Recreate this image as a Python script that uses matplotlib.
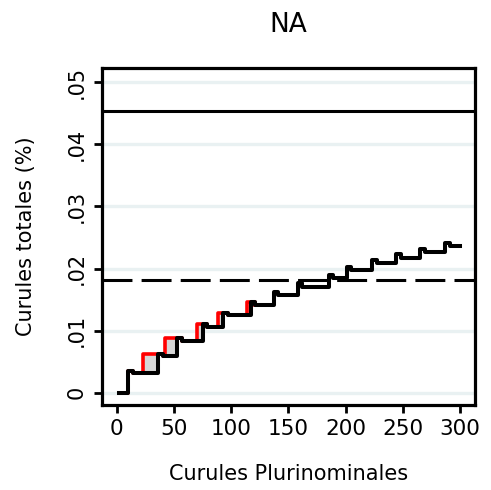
import numpy as np
import matplotlib
matplotlib.use("Agg")
import matplotlib.pyplot as plt

# ---- data ----
black_x = [2, 10, 14, 36, 40, 53, 57, 75, 79, 93, 97, 117, 121, 137, 141,
           158, 162, 185, 189, 201, 205, 223, 227, 244, 248, 265, 269, 287, 291, 300]
black_y = [0.0, 0.0035, 0.0031, 0.0063, 0.0059, 0.0088, 0.0083, 0.0111, 0.0106,
           0.0129, 0.0125, 0.0146, 0.0141, 0.0162, 0.0157, 0.0177, 0.0171,
           0.0189, 0.0184, 0.0203, 0.0198, 0.0214, 0.0209, 0.0224, 0.0217,
           0.0231, 0.0227, 0.0241, 0.0237, 0.0237]

red_x = [2, 10, 14, 23, 40, 42, 57, 70, 79, 88, 97, 114, 121]
red_y = [0.0, 0.0035, 0.0031, 0.0063, 0.0059, 0.0088, 0.0083, 0.0111, 0.0106,
         0.0129, 0.0125, 0.0146, 0.0141]

solid_ref = 0.0454
dashed_ref = 0.0181

title = "NA"
xlabel = "Curules Plurinominales"
ylabel = "Curules totales (%)"
xticks = [0, 50, 100, 150, 200, 250, 300]
yticks = [0, 0.01, 0.02, 0.03, 0.04, 0.05]
yticklabels = ["0", ".01", ".02", ".03", ".04", ".05"]

plt.rcParams['font.family'] = ['DejaVu Sans']

fig = plt.figure(figsize=(4.91, 4.90), dpi=100)
ax = fig.add_axes([0.2077, 0.1735, 0.7597, 0.6877])


def step_eval(xs, ys, x):
    xs = np.asarray(xs, float)
    ys = np.asarray(ys, float)
    idx = np.searchsorted(xs, x, side='right') - 1
    idx = np.clip(idx, 0, len(xs) - 1)
    return ys[idx]


grid = np.union1d(black_x, red_x).astype(float)
grid = grid[grid <= max(red_x)]
b_on = step_eval(black_x, black_y, grid)
r_on = step_eval(red_x, red_y, grid)
ax.fill_between(grid, b_on, np.maximum(r_on, b_on), step='post',
                color='#d6d6d6', linewidth=0, zorder=2)

for yv in yticks:
    ax.axhline(yv, color='#e9f1f2', lw=2.4, zorder=1)

ax.axhline(solid_ref, color='black', lw=2.2, zorder=3)
ax.axhline(dashed_ref, color='black', lw=2.2, dashes=(9.8, 3.0), zorder=3)

ax.plot(red_x, red_y, drawstyle='steps-post', color='#ff0000', lw=2.6, zorder=4)
ax.plot(black_x, black_y, drawstyle='steps-post', color='black', lw=2.9, zorder=5)

ax.set_xlim(-13, 313)
ax.set_ylim(-0.00198, 0.0523)
ax.set_xticks(xticks)
ax.set_xticklabels([str(v) for v in xticks], fontsize=15.5)
ax.set_yticks(yticks)
ax.set_yticklabels(yticklabels, rotation=90, va='center', fontsize=15)

ax.tick_params(axis='both', length=6, width=2.0, color='black')
ax.tick_params(axis='x', pad=4)
ax.tick_params(axis='y', pad=5)
for s in ax.spines.values():
    s.set_linewidth(2.3)
    s.set_color('black')

ax.set_xlabel(xlabel, fontsize=15, labelpad=18)
ax.set_ylabel(ylabel, fontsize=15, labelpad=22)
ax.set_title(title, fontsize=19, pad=26)

fig.savefig('out.png', dpi=100)
